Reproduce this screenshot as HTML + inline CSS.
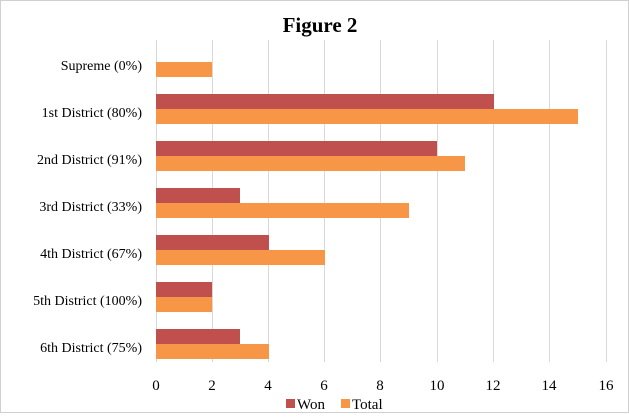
<!DOCTYPE html>
<html><head><style>
body{margin:0;background:#fff;}
svg text{font-family:"Liberation Serif",serif;fill:#000;}
</style></head><body>
<svg width="629" height="414" viewBox="0 0 629 414" xmlns="http://www.w3.org/2000/svg">
<rect x="0.5" y="0.5" width="628" height="412" fill="#fff" stroke="#d0d0d0"/>
<text x="320" y="32" font-size="21" font-weight="bold" text-anchor="middle">Figure 2</text>
<g stroke="#d9d9d9" stroke-width="1">
<line x1="156.5" y1="40" x2="156.5" y2="362"/>
<line x1="212.5" y1="40" x2="212.5" y2="362"/>
<line x1="268.5" y1="40" x2="268.5" y2="362"/>
<line x1="324.5" y1="40" x2="324.5" y2="362"/>
<line x1="380.5" y1="40" x2="380.5" y2="362"/>
<line x1="437.5" y1="40" x2="437.5" y2="362"/>
<line x1="493.5" y1="40" x2="493.5" y2="362"/>
<line x1="549.5" y1="40" x2="549.5" y2="362"/>
<line x1="606.5" y1="40" x2="606.5" y2="362"/>
</g>
<g fill="#F79646">
<rect x="156" y="62" width="56" height="15"/>
<rect x="156" y="109" width="422" height="15"/>
<rect x="156" y="156" width="309" height="15"/>
<rect x="156" y="203" width="253" height="15"/>
<rect x="156" y="250" width="169" height="15"/>
<rect x="156" y="297" width="56" height="15"/>
<rect x="156" y="344" width="113" height="15"/>
</g>
<g fill="#C0504D">
<rect x="156" y="94" width="338" height="15"/>
<rect x="156" y="141" width="281" height="15"/>
<rect x="156" y="188" width="84" height="15"/>
<rect x="156" y="235" width="113" height="15"/>
<rect x="156" y="282" width="56" height="15"/>
<rect x="156" y="329" width="84" height="15"/>
</g>
<g font-size="14" text-anchor="end">
<text x="142" y="70">Supreme (0%)</text>
<text x="142" y="117">1st District (80%)</text>
<text x="142" y="164">2nd District (91%)</text>
<text x="142" y="211">3rd District (33%)</text>
<text x="142" y="258">4th District (67%)</text>
<text x="142" y="305">5th District (100%)</text>
<text x="142" y="352">6th District (75%)</text>
</g>
<g font-size="15" text-anchor="middle">
<text x="156" y="390">0</text><text x="212" y="390">2</text><text x="268" y="390">4</text>
<text x="324" y="390">6</text><text x="380" y="390">8</text><text x="437" y="390">10</text>
<text x="493" y="390">12</text><text x="549" y="390">14</text><text x="606" y="390">16</text>
</g>
<rect x="286" y="399" width="9" height="9" fill="#C0504D"/>
<text x="297" y="409" font-size="15">Won</text>
<rect x="341" y="399" width="9" height="9" fill="#F79646"/>
<text x="352" y="409" font-size="15">Total</text>
</svg>
</body></html>
